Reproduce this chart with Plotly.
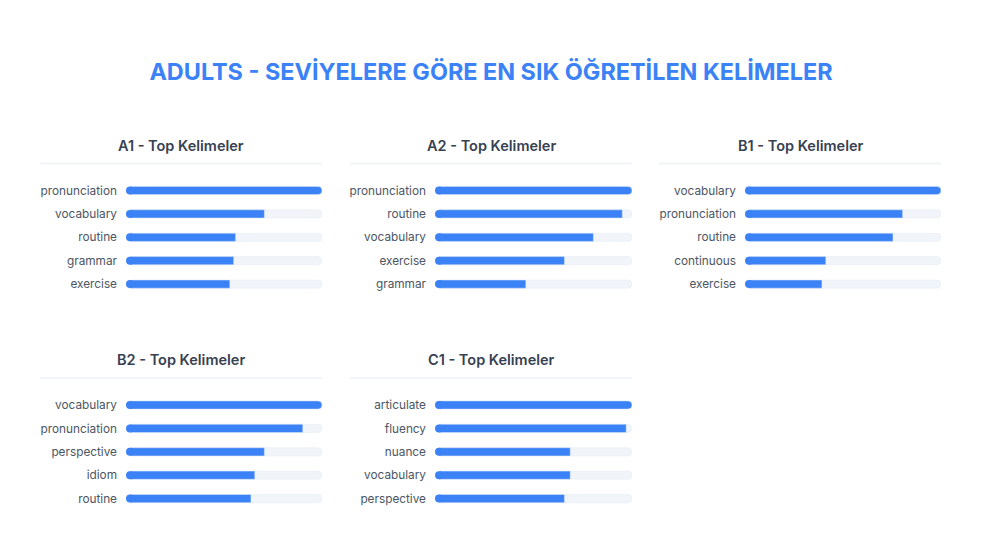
import plotly.graph_objects as go

# share of the most frequent word in each level (%)
levels = ["A1", "A2", "B1", "B2", "C1"]

a1_words = ["pronunciation", "vocabulary", "routine", "grammar", "exercise"]
a1_values = [100, 70, 55, 54, 52]

a2_words = ["pronunciation", "routine", "vocabulary", "exercise", "grammar"]
a2_values = [100, 95, 80, 65, 45]

b1_words = ["vocabulary", "pronunciation", "routine", "continuous", "exercise"]
b1_values = [100, 80, 75, 40, 38]

b2_words = ["vocabulary", "pronunciation", "perspective", "idiom", "routine"]
b2_values = [100, 90, 70, 65, 63]

c1_words = ["articulate", "fluency", "nuance", "vocabulary", "perspective"]
c1_values = [100, 97, 68, 68, 65]

BLUE = "#3b82f6"
TRACK = "#f1f4f9"
W, H = 984, 556
OFFSET = 8  # page body margin


def px_x(x):
    return (x - OFFSET) / W


def px_y(y):
    return 1 - (y - OFFSET) / H


panels = [
    (levels[0], a1_words, a1_values),
    (levels[1], a2_words, a2_values),
    (levels[2], b1_words, b1_values),
    (levels[3], b2_words, b2_values),
    (levels[4], c1_words, c1_values),
]

# pixel layout of the grid
col_left = [40, 350, 659]
bar_start = [126, 435, 745]
bar_end = [322, 632, 941]
row_title = [145, 359]
row_line = [163.5, 378]
row_first = [190.5, 405]
row_step = 23.4

fig = go.Figure()
annotations = []
shapes = []

for i, (level, words, vals) in enumerate(panels):
    row, col = divmod(i, 3)
    suffix = "" if i == 0 else str(i + 1)
    xa, ya = "x" + suffix, "y" + suffix
    track = [max(vals)] * len(vals)

    fig.add_trace(go.Bar(x=track, y=words, orientation="h", width=0.35,
                         marker=dict(color=TRACK, cornerradius=4),
                         xaxis=xa, yaxis=ya, hoverinfo="skip", showlegend=False))
    fig.add_trace(go.Bar(x=vals, y=words, orientation="h", width=0.35,
                         marker=dict(color=BLUE, cornerradius=4),
                         xaxis=xa, yaxis=ya, showlegend=False,
                         hovertemplate="%{y}: %{x}%<extra></extra>"))
    # round left end of the bars
    fig.add_trace(go.Scatter(x=[0] * len(vals), y=words, mode="markers",
                             marker=dict(size=8, color=BLUE, line=dict(width=0)),
                             cliponaxis=False,
                             xaxis=xa, yaxis=ya, hoverinfo="skip", showlegend=False))

    top = row_first[row] - row_step / 2
    bottom = row_first[row] + row_step * 4 + row_step / 2
    fig.update_layout({
        "xaxis" + suffix: dict(domain=[px_x(bar_start[col] + 4), px_x(bar_end[col])],
                               range=[0, max(vals)], visible=False, fixedrange=True,
                               anchor=ya),
        "yaxis" + suffix: dict(domain=[px_y(bottom), px_y(top)], autorange="reversed",
                               anchor=xa, showgrid=False, zeroline=False, showline=False,
                               ticks="", ticklabelstandoff=12,
                               tickfont=dict(family="Inter", size=11.8, color="#4b5563"),
                               fixedrange=True),
    })

    annotations.append(dict(text=f"{level} - Top Kelimeler", xref="paper", yref="paper",
                            x=px_x((col_left[col] + bar_end[col]) / 2), y=px_y(row_title[row]),
                            xanchor="center", yanchor="middle", showarrow=False,
                            font=dict(family="Inter", size=14.5, color="#374151", weight=600)))
    shapes.append(dict(type="line", xref="paper", yref="paper",
                       x0=px_x(col_left[col]), x1=px_x(bar_end[col]),
                       y0=px_y(row_line[row]), y1=px_y(row_line[row]),
                       line=dict(color="#f1f4f8", width=2)))

fig.update_layout(
    width=W, height=H,
    margin=dict(l=0, r=0, t=0, b=0),
    paper_bgcolor="white", plot_bgcolor="white",
    barmode="overlay",
    title=dict(text="ADULTS - SEVİYELERE GÖRE EN SIK ÖĞRETİLEN KELİMELER",
               x=px_x(491), xanchor="center", y=px_y(72), yanchor="middle",
               font=dict(family="Inter", size=23.4, color=BLUE, weight=700)),
    annotations=annotations,
    shapes=shapes,
)

fig.write_html("out.html")
